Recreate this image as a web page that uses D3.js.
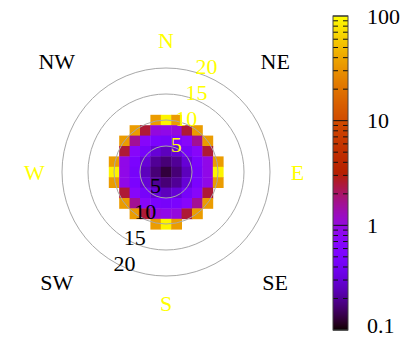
<!DOCTYPE html>
<html>
<head>
<meta charset="utf-8">
<script src="https://cdn.jsdelivr.net/npm/d3@7"></script>
<style>
  body { margin: 0; background: #fff; }
  svg text { font-family: "Liberation Serif", "Times New Roman", Times, serif; font-size: 22px; }
</style>
</head>
<body>
<div id="chart"></div>
<script>
// grid of cell centres (units), rows top -> bottom
var gridU = [-10, -8, -6, -4, -2, 0, 2, 4, 6, 8, 10];
var gridV = [10, 8, 6, 4, 2, 0, -2, -4, -6, -8, -10];
var cellValues = [
  [null, null, null, null, 35, 90, 35, null, null, null, null],
  [null, null, 35, 2.5, 1.0, 0.9, 1.0, 2.5, 35, null, null],
  [null, 35, 1.6, 0.7, 0.5, 0.45, 0.5, 0.7, 1.6, 35, null],
  [null, 2.5, 0.7, 0.45, 0.3, 0.25, 0.3, 0.45, 0.7, 2.5, null],
  [35, 0.9, 0.5, 0.3, 0.2, 0.17, 0.2, 0.3, 0.5, 0.9, 35],
  [90, 0.9, 0.45, 0.25, 0.17, 0.13, 0.17, 0.25, 0.45, 0.9, 90],
  [35, 0.9, 0.5, 0.3, 0.2, 0.17, 0.2, 0.3, 0.5, 0.9, 35],
  [null, 2.5, 0.7, 0.45, 0.3, 0.25, 0.3, 0.45, 0.7, 2.5, null],
  [null, 35, 1.6, 0.7, 0.5, 0.45, 0.5, 0.7, 1.6, 35, null],
  [null, null, 35, 2.5, 1.0, 0.9, 1.0, 2.5, 35, null, null],
  [null, null, null, null, 35, 90, 35, null, null, null, null]
];
var rings = [5, 10, 15, 20];
var compass = ["N", "NE", "E", "SE", "S", "SW", "W", "NW"];
var cbMajor = [0.1, 1, 10, 100];
var cbLabels = ["0.1", "1", "10", "100"];

var width = 402, height = 338;
var cx = 166, cy = 172, R = 104;

var svg = d3.select("#chart").append("svg")
    .attr("width", width)
    .attr("height", height)
    .attr("font-family", "Liberation Serif, Times New Roman, serif");

var x = d3.scaleLinear().domain([-20, 20]).range([cx - R, cx + R]);
var y = d3.scaleLinear().domain([-20, 20]).range([cy + R, cy - R]);

// gnuplot default palette (rgbformulae 7,5,15)
function palette(t) {
  t = Math.max(0, Math.min(1, t));
  var r = Math.sqrt(t), g = t * t * t, b = Math.max(0, Math.sin(2 * Math.PI * t));
  return d3.rgb(255 * r, 255 * g, 255 * b).toString();
}
var cnorm = d3.scaleLog().domain([0.1, 100]).range([0, 1]).clamp(true);
function color(v) { return palette(cnorm(v)); }

// flatten cells
var cells = [];
cellValues.forEach(function(row, j) {
  row.forEach(function(v, i) {
    if (v != null) cells.push({u: gridU[i], v: gridV[j], val: v});
  });
});

var step = 2;
svg.append("g")
  .selectAll("rect")
  .data(cells)
  .enter().append("rect")
    .attr("x", function(d) { return x(d.u - step / 2); })
    .attr("y", function(d) { return y(d.v + step / 2); })
    .attr("width", x(step) - x(0) + 0.4)
    .attr("height", y(0) - y(step) + 0.4)
    .attr("fill", function(d) { return color(d.val); });

// range circles
svg.append("g")
  .selectAll("circle")
  .data(rings)
  .enter().append("circle")
    .attr("cx", x(0))
    .attr("cy", y(0))
    .attr("r", function(d) { return x(d) - x(0); })
    .attr("fill", "none")
    .attr("stroke", "#a8a8a8")
    .attr("stroke-width", 1);

// ring labels, yellow towards NNE, black towards SSW
svg.append("g")
  .selectAll("text")
  .data(rings)
  .enter().append("text")
    .attr("x", function(d) { return x(0.39 * d); })
    .attr("y", function(d) { return y(d) - 1.5; })
    .attr("text-anchor", "middle")
    .attr("dominant-baseline", "central")
    .attr("fill", "#ffff00")
    .text(function(d) { return d; });

svg.append("g")
  .selectAll("text")
  .data(rings)
  .enter().append("text")
    .attr("x", function(d) { return x(-0.4 * d); })
    .attr("y", function(d) { return y(-d) - 12.5; })
    .attr("text-anchor", "middle")
    .attr("dominant-baseline", "central")
    .attr("fill", "#000")
    .text(function(d) { return d; });

// compass labels
svg.append("g")
  .selectAll("text")
  .data(compass)
  .enter().append("text")
    .attr("x", function(d, i) {
      var a = i * Math.PI / 4;
      return i % 2 ? x(Math.sign(Math.sin(a)) * 21) : x(25.3 * Math.sin(a));
    })
    .attr("y", function(d, i) {
      var a = i * Math.PI / 4;
      return i % 2 ? y(Math.sign(Math.cos(a)) * 21.3) : y(25.2 * Math.cos(a));
    })
    .attr("text-anchor", "middle")
    .attr("dominant-baseline", "central")
    .attr("fill", function(d, i) { return i % 2 ? "#000" : "#ffff00"; })
    .text(function(d) { return d; });

// colour bar
var cbX = 333, cbW = 15;
var cbY = d3.scaleLog().domain([0.1, 100]).range([330, 16]);
var cb = svg.append("g");
var rowsPx = d3.range(Math.floor(cbY(100)), Math.ceil(cbY(0.1)));
cb.selectAll("rect.grad")
  .data(rowsPx)
  .enter().append("rect")
    .attr("class", "grad")
    .attr("x", cbX)
    .attr("y", function(d) { return d; })
    .attr("width", cbW)
    .attr("height", 1.2)
    .attr("fill", function(d) { return color(cbY.invert(d + 0.5)); });

var minor = [];
[0.1, 1, 10].forEach(function(dec) {
  for (var k = 2; k <= 9; k++) minor.push(dec * k);
});
cb.selectAll("line.minor-l")
  .data(minor)
  .enter().append("line")
    .attr("x1", cbX).attr("x2", cbX + 5)
    .attr("y1", function(d) { return cbY(d); })
    .attr("y2", function(d) { return cbY(d); })
    .attr("stroke", "#111").attr("stroke-width", 1);
cb.selectAll("line.minor-r")
  .data(minor)
  .enter().append("line")
    .attr("x1", cbX + cbW - 5).attr("x2", cbX + cbW)
    .attr("y1", function(d) { return cbY(d); })
    .attr("y2", function(d) { return cbY(d); })
    .attr("stroke", "#111").attr("stroke-width", 1);
cb.selectAll("line.major")
  .data(cbMajor)
  .enter().append("line")
    .attr("x1", cbX).attr("x2", cbX + cbW)
    .attr("y1", function(d) { return cbY(d); })
    .attr("y2", function(d) { return cbY(d); })
    .attr("stroke", "#111").attr("stroke-width", 1);

cb.append("rect")
  .attr("x", cbX).attr("y", cbY(100))
  .attr("width", cbW).attr("height", cbY(0.1) - cbY(100))
  .attr("fill", "none").attr("stroke", "#444").attr("stroke-width", 1);

cb.selectAll("text")
  .data(cbMajor)
  .enter().append("text")
    .attr("x", 367)
    .attr("y", function(d) { return Math.min(cbY(d), 325); })
    .attr("dominant-baseline", "central")
    .attr("fill", "#000")
    .text(function(d, i) { return cbLabels[i]; });
</script>
</body>
</html>
